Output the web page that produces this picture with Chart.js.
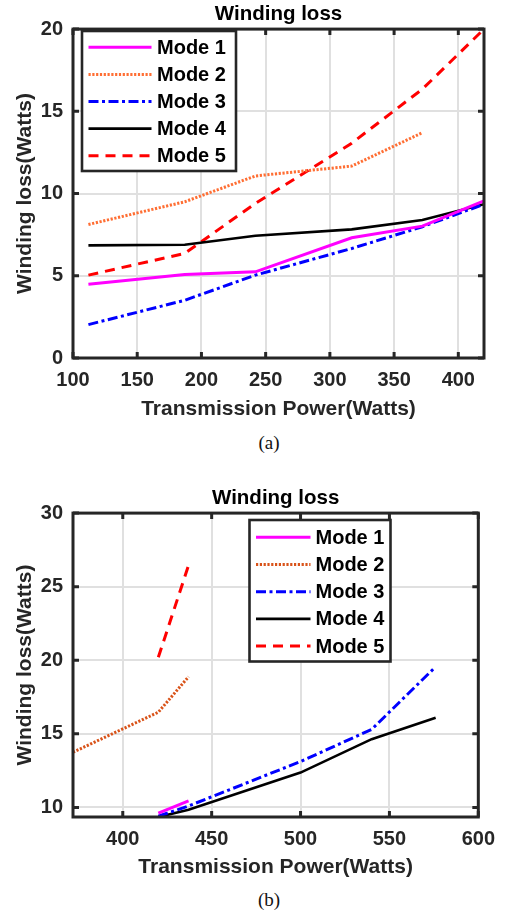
<!DOCTYPE html>
<html>
<head>
<meta charset="utf-8">
<script src="https://cdn.jsdelivr.net/npm/chart.js@4.4.1/dist/chart.umd.min.js"></script>
<style>
  html, body { margin: 0; padding: 0; background: #fff; overflow: hidden; }
  body { width: 505px; height: 912px; position: relative; }
  canvas { position: absolute; left: 0; }
  .caption {
    position: absolute; left: 219px; width: 100px; text-align: center;
    font-family: 'Liberation Serif', 'Times New Roman', serif; font-size: 19px;
    line-height: 20px; color: #111;
  }
</style>
</head>
<body>
<canvas id="chartA" width="505" height="430" style="top:0"></canvas>
<div class="caption" style="top:433px">(a)</div>
<canvas id="chartB" width="505" height="405" style="top:484px"></canvas>
<div class="caption" style="top:890px">(b)</div>
<script>
// values
const modeLabels = ['Mode 1', 'Mode 2', 'Mode 3', 'Mode 4', 'Mode 5'];

const powerA = [112, 187, 242, 317, 372, 420];
const mode1A = [4.49, 5.08, 5.24, 7.31, 8.02, 9.56];
const mode2A = [8.12, 9.5, 11.07, 11.67, 13.7, null];
const mode3A = [2.03, 3.51, 5.04, 6.66, 7.98, 9.35];
const mode4A = [6.85, 6.89, 7.43, 7.82, 8.39, 9.35];
const mode5A = [5.04, 6.36, 9.4, 13.06, 16.35, 20.0];

const powerB = [372, 420, 437, 500, 540, 576];
const mode1B = [null, 9.62, 10.45, null, null, null];
const mode2B = [13.75, 16.47, 18.88, null, null, null];
const mode3B = [null, 9.4, 10.1, 13.12, 15.3, 19.56];
const mode4B = [null, 9.35, 9.84, 12.37, 14.64, 16.1];
const mode5B = [null, 20.2, 26.45, null, null, null];

const xTicksA = [100, 150, 200, 250, 300, 350, 400];
const yTicksA = [0, 5, 10, 15, 20];
const xTicksB = [400, 450, 500, 550, 600];
const yTicksB = [10, 15, 20, 25, 30];

const FONT = "'Liberation Sans', Arial, Helvetica, sans-serif";
const AXIS_COLOR = '#262626';
const GRID_COLOR = '#e0e0e0';

function toPoints(xs, ys) {
    return xs.map((x, i) => ({ x: x, y: ys[i] }));
}

function buildDatasets(xs, series, orange) {
    const styles = [
        { color: '#ff00ff', dash: [], width: 3 },
        { color: orange, dash: [2.2, 1.6], width: 3 },
        { color: '#0000ff', dash: [10, 3.5, 3, 3.5], width: 3 },
        { color: '#000000', dash: [], width: 2.6 },
        { color: '#ff0000', dash: [10, 7], width: 3 }
    ];
    return series.map((ys, i) => ({
        label: modeLabels[i],
        data: toPoints(xs, ys),
        borderColor: styles[i].color,
        borderDash: styles[i].dash,
        borderWidth: styles[i].width,
        pointRadius: 0,
        tension: 0,
        fill: false
    }));
}

// box, inner ticks and the in-plot legend (MATLAB look)
const framePlugin = {
    id: 'frame',
    afterDatasetsDraw(chart, args, opts) {
        const { ctx, chartArea: a, scales } = chart;
        ctx.save();
        ctx.strokeStyle = AXIS_COLOR;
        ctx.lineWidth = 3;
        ctx.setLineDash([]);
        ctx.lineCap = 'butt';
        const tl = 6;
        ctx.beginPath();
        scales.x.ticks.forEach(t => {
            const px = scales.x.getPixelForValue(t.value);
            ctx.moveTo(px, a.bottom); ctx.lineTo(px, a.bottom - tl);
            ctx.moveTo(px, a.top); ctx.lineTo(px, a.top + tl);
        });
        scales.y.ticks.forEach(t => {
            const py = scales.y.getPixelForValue(t.value);
            ctx.moveTo(a.left, py); ctx.lineTo(a.left + tl, py);
            ctx.moveTo(a.right, py); ctx.lineTo(a.right - tl, py);
        });
        ctx.stroke();
        ctx.strokeRect(a.left, a.top, a.right - a.left, a.bottom - a.top);

        // legend
        const L = opts.box;
        ctx.fillStyle = '#fff';
        ctx.fillRect(L.x, L.y, L.w, L.h);
        ctx.lineWidth = 2.6;
        ctx.strokeStyle = AXIS_COLOR;
        ctx.strokeRect(L.x, L.y, L.w, L.h);
        ctx.font = 'bold 20px ' + FONT;
        ctx.textBaseline = 'middle';
        ctx.textAlign = 'left';
        chart.data.datasets.forEach((ds, i) => {
            const cy = L.y + L.first + i * L.step;
            ctx.strokeStyle = ds.borderColor;
            ctx.lineWidth = ds.borderWidth;
            ctx.setLineDash(ds.borderDash);
            ctx.beginPath();
            ctx.moveTo(L.x + L.lineX0, cy);
            ctx.lineTo(L.x + L.lineX1, cy);
            ctx.stroke();
            ctx.setLineDash([]);
            ctx.fillStyle = '#000';
            ctx.fillText(ds.label, L.x + L.textX, cy + 1);
        });
        ctx.restore();
    }
};

function makeChart(id, xs, series, orange, xr, yr, xTicks, yTicks, legendBox) {
    const tickFont = { family: FONT, size: 20, weight: 'bold' };
    const titleFont = { family: FONT, size: 21, weight: 'bold' };
    return new Chart(document.getElementById(id), {
        type: 'line',
        data: { datasets: buildDatasets(xs, series, orange) },
        options: {
            responsive: false,
            animation: false,
            events: [],
            layout: { padding: { left: 0, right: 21, top: 0, bottom: 0 } },
            plugins: {
                legend: { display: false },
                tooltip: { enabled: false },
                title: {
                    display: true,
                    text: 'Winding loss',
                    color: '#000',
                    fullSize: false,
                    font: { family: FONT, size: 20.5, weight: 'bold' },
                    padding: { top: 2, bottom: 2.5 }
                },
                frame: { box: legendBox }
            },
            scales: {
                x: {
                    type: 'linear',
                    min: xr[0],
                    max: xr[1],
                    afterBuildTicks: s => { s.ticks = xTicks.map(v => ({ value: v })); },
                    afterFit: s => { s.height = 72; },
                    grid: { color: GRID_COLOR, lineWidth: 2, drawTicks: false },
                    border: { display: false },
                    ticks: { color: AXIS_COLOR, font: tickFont, padding: 10, maxRotation: 0, autoSkip: false },
                    title: {
                        display: true,
                        text: 'Transmission Power(Watts)',
                        color: AXIS_COLOR,
                        font: titleFont,
                        padding: { top: 0, bottom: id === 'chartA' ? 8.5 : 9.5 }
                    }
                },
                y: {
                    type: 'linear',
                    min: yr[0],
                    max: yr[1],
                    afterBuildTicks: s => { s.ticks = yTicks.map(v => ({ value: v })); },
                    afterFit: s => { s.width = 73; },
                    grid: { color: GRID_COLOR, lineWidth: 2, drawTicks: false },
                    border: { display: false },
                    ticks: { color: AXIS_COLOR, font: tickFont, padding: 10, autoSkip: false },
                    title: {
                        display: true,
                        text: 'Winding loss(Watts)',
                        color: AXIS_COLOR,
                        font: titleFont,
                        padding: { top: 13, bottom: 0 }
                    }
                }
            }
        },
        plugins: [framePlugin]
    });
}

makeChart('chartA', powerA, [mode1A, mode2A, mode3A, mode4A, mode5A], '#ff6e33',
    [100, 420], [0, 20], xTicksA, yTicksA,
    { x: 82, y: 31, w: 154, h: 140, first: 16.3, step: 27.1, lineX0: 6.5, lineX1: 69.5, textX: 75 });

makeChart('chartB', powerB, [mode1B, mode2B, mode3B, mode4B, mode5B], '#d95319',
    [372, 600], [9.35, 30], xTicksB, yTicksB,
    { x: 249.5, y: 36, w: 141, h: 141.5, first: 17.3, step: 27.2, lineX0: 6.5, lineX1: 61, textX: 66 });
</script>
</body>
</html>
